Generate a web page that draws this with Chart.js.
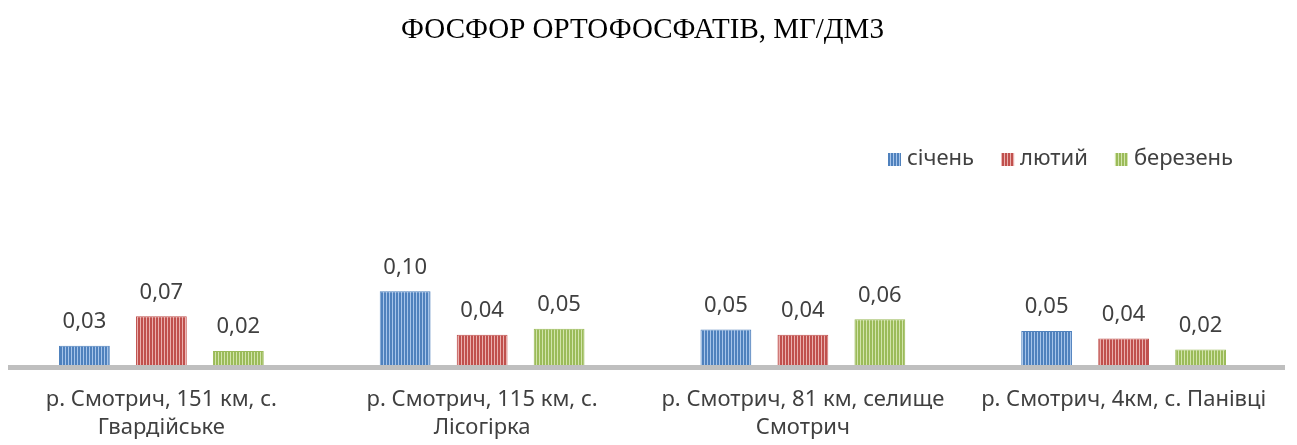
<!DOCTYPE html>
<html>
<head>
<meta charset="utf-8">
<script src="https://cdn.jsdelivr.net/npm/chart.js@4/dist/chart.umd.min.js"></script>
<style>
  html,body{margin:0;padding:0;background:#fff;}
  #wrap{width:1297px;height:445px;}
</style>
</head>
<body>
<div id="wrap"><canvas id="myChart" width="1297" height="445"></canvas></div>
<script>
// дані з діаграми
let categories=[
    ["р. Смотрич, 151 км, с.","Гвардійське"],
    ["р. Смотрич, 115 км, с.","Лісогірка"],
    ["р. Смотрич, 81 км, селище","Смотрич"],
    ["р. Смотрич, 4км, с. Панівці"]
];
let seriesNames=["січень","лютий","березень"];
let sichen=[0.026,0.100,0.048,0.046];
let lyutyi=[0.066,0.041,0.041,0.036];
let berezen=[0.019,0.049,0.062,0.021];
let baseColors=["#4f81bd","#c0504d","#9bbb59"];
let stripeColors=["#a6c4ea","#eab0ae","#d2e4ab"];

function stripePattern(base,stripe){
    let c=document.createElement("canvas");
    c.width=3;c.height=4;
    let cx=c.getContext("2d");
    cx.fillStyle=base;
    cx.fillRect(0,0,3,4);
    cx.fillStyle=stripe;
    cx.fillRect(2,0,1,4);
    return document.getElementById("myChart").getContext("2d").createPattern(c,"repeat");
}

function fmt(v){
    return v.toFixed(2).replace(".",",");
}

// підписи значень над стовпчиками
const valueLabels={
    id:"valueLabels",
    afterDatasetsDraw(chart){
        let ctx=chart.ctx;
        ctx.save();
        ctx.font="22px 'Noto Sans'";
        ctx.fillStyle="#404040";
        ctx.textAlign="center";
        ctx.textBaseline="middle";
        chart.data.datasets.forEach(function(ds,i){
            chart.getDatasetMeta(i).data.forEach(function(bar,j){
                ctx.fillText(fmt(ds.data[j]),bar.x,bar.y-24);
            });
        });
        ctx.restore();
    }
};

// лінія осі
const baseLine={
    id:"baseLine",
    afterDatasetsDraw(chart){
        let a=chart.chartArea;
        let ctx=chart.ctx;
        ctx.save();
        ctx.fillStyle="#bfbfbf";
        ctx.fillRect(a.left+7,a.bottom,a.right-a.left-6,5);
        ctx.restore();
    }
};

// легенда праворуч
const rightLegend={
    id:"rightLegend",
    afterDraw(chart){
        let ctx=chart.ctx;
        ctx.save();
        ctx.font="22px 'Noto Sans'";
        ctx.textBaseline="middle";
        let y=159;
        let x=888;
        chart.data.datasets.forEach(function(ds,i){
            ctx.fillStyle=ds.backgroundColor;
            ctx.fillRect(x,y-6,13,13);
            ctx.fillStyle="#404040";
            ctx.fillText(ds.label,x+19,y);
            x+=19+ctx.measureText(ds.label).width+27;
        });
        ctx.restore();
    }
};

let ctx=document.getElementById("myChart").getContext("2d");
let values=[sichen,lyutyi,berezen];
let datasets=seriesNames.map(function(name,i){
    return {
        label:name,
        data:values[i],
        backgroundColor:stripePattern(baseColors[i],stripeColors[i]),
        borderColor:baseColors[i],
        borderWidth:1,
        barPercentage:0.66,
        categoryPercentage:0.72
    };
});

let myChart=new Chart(ctx,{
    type:"bar",
    data:{labels:categories,datasets:datasets},
    options:{
        responsive:false,
        animation:false,
        layout:{padding:{left:1,right:13,top:0,bottom:0}},
        plugins:{
            legend:{display:false},
            tooltip:{enabled:false},
            title:{
                display:true,
                text:"ФОСФОР ОРТОФОСФАТІВ, МГ/ДМ3",
                color:"#000",
                font:{family:"'Liberation Serif'",size:29,weight:"normal"},
                padding:{top:13,bottom:155}
            }
        },
        scales:{
            x:{
                grid:{display:false,drawTicks:false},
                border:{display:false},
                ticks:{
                    color:"#404040",
                    font:{family:"'Noto Sans'",size:22,lineHeight:1.27},
                    padding:21,
                    maxRotation:0,
                    autoSkip:false
                },
                afterFit(scale){scale.height=80;}
            },
            y:{
                display:false,
                min:0,
                max:0.22
            }
        }
    },
    plugins:[valueLabels,baseLine,rightLegend]
});
</script>
</body>
</html>
